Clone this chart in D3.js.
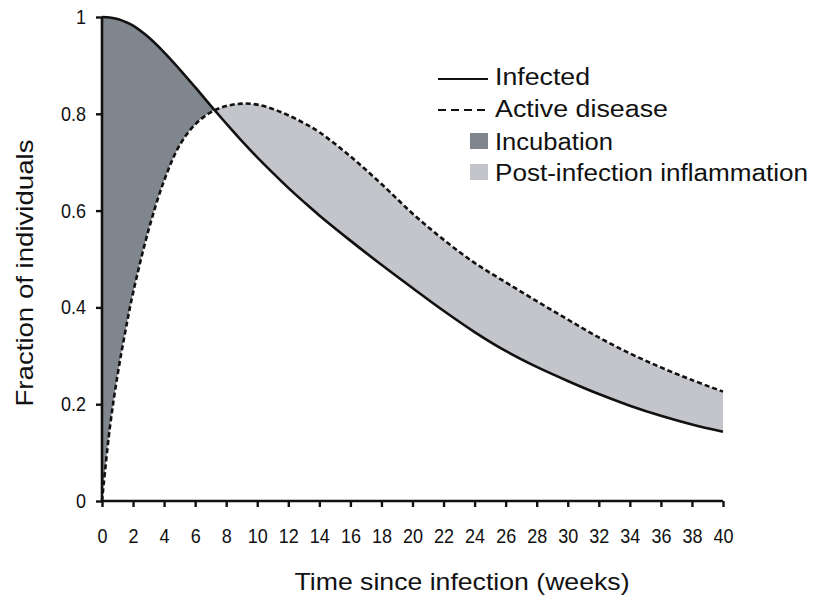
<!DOCTYPE html>
<html><head><meta charset="utf-8">
<script src="https://cdn.jsdelivr.net/npm/d3@7"></script>
<style>body{margin:0;background:#fff}text{font-family:"Liberation Sans",Arial,sans-serif;fill:#111}</style>
</head><body><svg id="c" width="817" height="600"></svg>
<script>
const weeks = [0,0.5,1,1.5,2,3,4,5,6,7,8,9,10,11,12,13,14,16,18,20,22,24,26,28,30,32,34,36,38,40];
const infected = [1.0,0.999,0.996,0.990,0.982,0.958,0.927,0.892,0.855,0.817,0.780,0.744,0.710,0.678,0.647,0.618,0.590,0.538,0.488,0.440,0.393,0.349,0.310,0.277,0.248,0.221,0.197,0.176,0.158,0.143];
const activeDisease = [0,0.15,0.26,0.35,0.43,0.56,0.662,0.735,0.778,0.803,0.816,0.821,0.819,0.810,0.797,0.781,0.762,0.712,0.655,0.594,0.540,0.492,0.452,0.413,0.375,0.338,0.305,0.276,0.250,0.226];
const xTicks = d3.range(0,41,2);
const yTicks = [0,0.2,0.4,0.6,0.8,1];
const legendItems = ["Infected","Active disease","Incubation","Post-infection inflammation"];
const darkFill = "#80868d", lightFill = "#c3c5ca";

const svg = d3.select("#c");
const x = d3.scaleLinear().domain([0,40]).range([102,723]);
const y = d3.scaleLinear().domain([0,1]).range([501,17]);
const data = weeks.map((w,i)=>({w, inf:infected[i], act:activeDisease[i]}));

let cross = 7.27;
for (let i=1;i<data.length;i++){
  const a=data[i-1], b=data[i];
  const d0=a.inf-a.act, d1=b.inf-b.act;
  if (d0>0 && d1<=0){ cross = a.w + (b.w-a.w)*d0/(d0-d1); break; }
}
const defs = svg.append("defs");
defs.append("clipPath").attr("id","cl").append("rect")
  .attr("x",x(0)-2).attr("y",0).attr("width",x(cross)-x(0)+2).attr("height",600);
defs.append("clipPath").attr("id","cr").append("rect")
  .attr("x",x(cross)).attr("y",0).attr("width",x(40)-x(cross)).attr("height",600);

const curve = d3.curveCatmullRom.alpha(0.5);
const area = d3.area().x(d=>x(d.w)).y0(d=>y(d.act)).y1(d=>y(d.inf)).curve(curve);
svg.append("path").datum(data).attr("d",area).attr("fill",darkFill).attr("clip-path","url(#cl)");
svg.append("path").datum(data).attr("d",area).attr("fill",lightFill).attr("clip-path","url(#cr)");

const lineInf = d3.line().x(d=>x(d.w)).y(d=>y(d.inf)).curve(curve);
const lineAct = d3.line().x(d=>x(d.w)).y(d=>y(d.act)).curve(curve);
svg.append("path").datum(data).attr("d",lineAct).attr("fill","none").attr("stroke","#111").attr("stroke-width",2.6).attr("stroke-dasharray","5,3");
svg.append("path").datum(data).attr("d",lineInf).attr("fill","none").attr("stroke","#111").attr("stroke-width",2.6);

const xAxis = svg.append("g").attr("transform",`translate(0,${y(0)})`)
  .call(d3.axisBottom(x).tickValues(xTicks).tickSize(6).tickPadding(22).tickFormat(d3.format("d")));
const yAxis = svg.append("g").attr("transform",`translate(${x(0)},0)`)
  .call(d3.axisLeft(y).tickValues(yTicks).tickSize(6).tickPadding(10).tickFormat(d=>d===0||d===1?d:d3.format(".1f")(d)));
[xAxis,yAxis].forEach(g=>{
  g.select(".domain").attr("stroke","#111").attr("stroke-width",2.6);
  g.selectAll(".tick line").attr("stroke","#111").attr("stroke-width",2.4);
  g.selectAll(".tick text").attr("font-size",20).attr("fill","#111").attr("font-family","Liberation Sans, Arial, sans-serif")
    .each(function(){ const t=d3.select(this); t.attr("textLength", this.getComputedTextLength()*0.9).attr("lengthAdjust","spacingAndGlyphs"); });
});
xAxis.select(".domain").attr("d",`M${x(0)},0H${x(40)}`);
yAxis.select(".domain").attr("d",`M0,${y(0)}V${y(1)}`);

svg.append("text").attr("x",462).attr("y",590).attr("text-anchor","middle").attr("font-size",24)
  .attr("textLength",335).attr("lengthAdjust","spacingAndGlyphs").text("Time since infection (weeks)");
svg.append("text").attr("transform","translate(33,273) rotate(-90)").attr("text-anchor","middle").attr("font-size",24)
  .attr("textLength",267).attr("lengthAdjust","spacingAndGlyphs").text("Fraction of individuals");

const lg = svg.append("g");
const rows = [85,117,150,181];
const widths = [95,173,118,313];
lg.append("line").attr("x1",438).attr("x2",488).attr("y1",rows[0]-6).attr("y2",rows[0]-6).attr("stroke","#111").attr("stroke-width",2.2);
lg.append("line").attr("x1",438).attr("x2",488).attr("y1",rows[1]-7).attr("y2",rows[1]-7).attr("stroke","#111").attr("stroke-width",2.2).attr("stroke-dasharray","8,5");
lg.append("rect").attr("x",470).attr("y",rows[2]-17).attr("width",18).attr("height",16).attr("fill",darkFill);
lg.append("rect").attr("x",470).attr("y",rows[3]-17).attr("width",18).attr("height",16).attr("fill",lightFill);
legendItems.forEach((t,i)=>{
  lg.append("text").attr("x",495).attr("y",rows[i]).attr("font-size",23)
    .attr("textLength",widths[i]).attr("lengthAdjust","spacingAndGlyphs").text(t);
});
</script></body></html>
